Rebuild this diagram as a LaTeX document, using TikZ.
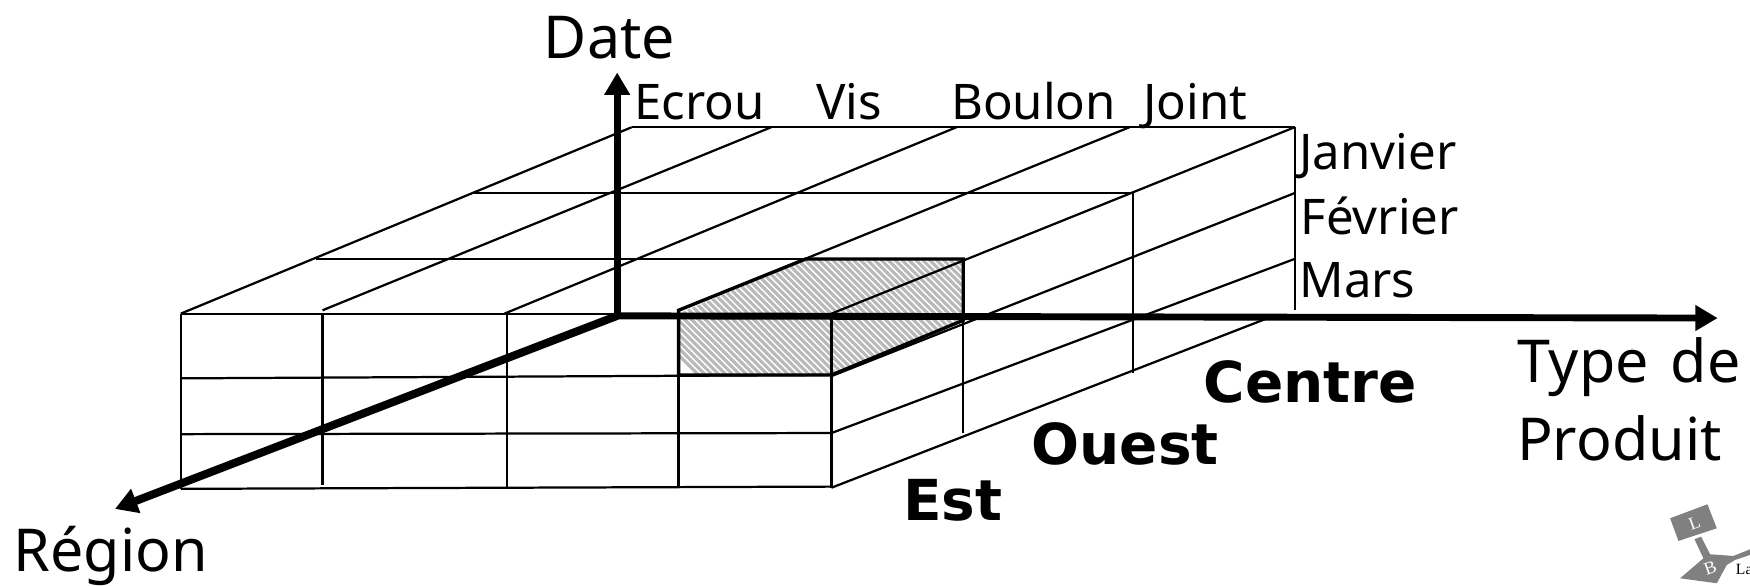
\documentclass[tikz,border=0pt]{standalone}
\usepackage{fontspec}
\setmainfont{Noto Sans}
\newfontfamily\boldfam[BoldFont={* Bold}]{DejaVu Sans}
\newfontfamily\logofam{Liberation Serif}
\usetikzlibrary{arrows.meta}
\tikzset{
  thinl/.style={line width=1pt,black},
  axisl/.style={line width=3.1pt,black,-{Triangle[length=10pt,width=11pt]}},
  hl/.style={line width=1.5pt,black,line join=miter},
  lab/.style={font=\fontsize{22}{22}\selectfont,inner sep=0pt,anchor=base west},
  biglab/.style={font=\fontsize{26.5}{26.5}\selectfont,inner sep=0pt,anchor=base west},
  boldlab/.style={font=\boldfam\fontsize{25.3}{25.3}\selectfont\bfseries,inner sep=0pt,anchor=base west}
}
\definecolor{logogray}{gray}{0.5}
\begin{document}
\begin{tikzpicture}[x=0.5pt,y=-0.5pt]
\useasboundingbox (0,0) rectangle (1568,524.2);
% shaded cell
\begin{scope}
\clip (608,281) -- (722,232) -- (863,232) -- (863,287) -- (745,336) -- (608,336) -- cycle;
\fill[white] (600,225) rectangle (870,340);
\foreach \k in {0,...,70}{
  \draw[gray!55,line width=1.4pt] (500+\k*6.2,210) -- (500+\k*6.2+160,370);
}
\end{scope}
% top grid
\draw[thinl] (566,114) -- (1160,114);
\draw[thinl] (425,173) -- (1016,173);
\draw[thinl] (283,232) -- (863,232);
\draw[thinl] (162,281) -- (745,281);
\draw[thinl] (566,114) -- (162,281);
\draw[thinl] (691,114) -- (289,278);
\draw[thinl] (857,114) -- (452,281);
\draw[thinl] (1012,114) -- (608,278);
\draw[thinl] (1160,114) -- (745,281);
% front grid
\draw[thinl] (162,281) -- (162,438);
\draw[thinl] (289,281) -- (289,435);
\draw[thinl] (454,281) -- (454,437);
\draw[thinl] (608,281) -- (608,437);
\draw[thinl] (745,281) -- (745,437);
\draw[thinl] (162,339) -- (745,336);
\draw[thinl] (162,389) -- (745,388);
\draw[thinl] (162,438) -- (745,436);
% side grid
\draw[thinl] (863,232) -- (863,388);
\draw[thinl] (1015,173) -- (1015,334);
\draw[thinl] (1160,114) -- (1160,278);
\draw[thinl] (745,337) -- (1160,173);
\draw[thinl] (745,388) -- (1160,232);
\draw[thinl] (745,437) -- (1136,285);
% shaded outline
\draw[hl] (608,278) -- (722,232) -- (863,232) -- (863,287) -- (745,336) -- (608,336) -- cycle;
\draw[hl] (745,281) -- (745,336);
% axes
\coordinate (origin) at (553,283);
\coordinate (dateend) at (553,65);
\coordinate (prodend) at (1539,285);
\coordinate (regend) at (103,456);
\draw[axisl] (origin) -- (dateend);
\draw[axisl] (origin) -- (prodend);
\draw[axisl,line width=3.6pt] (origin) -- (regend);
% labels
\node[biglab] (date) at (487,52) {Date};
\node[lab] (ecrou) at (568,107) {Ecrou};
\node[lab] (vis) at (731,107) {Vis};
\node[lab] (boulon) at (852,107) {Boulon};
\node[lab] (joint) at (1024,107) {Joint};
\node[lab] (janvier) at (1164,152) {Janvier};
\node[lab] (fevrier) at (1165,210) {Février};
\node[lab] (mars) at (1164,267) {Mars};
\node[biglab] (type) at (1359,343) {Type\hspace{3pt} de};
\node[biglab] (produit) at (1359,413) {Produit};
\node[biglab] (region) at (12,512) {Région};
\node[boldlab] (centre) at (1078,361) {Centre};
\node[boldlab] (ouest) at (924,416) {Ouest};
\node[boldlab] (est) at (809,466) {Est};
% logo
\begin{scope}[shift={(1433.7,439)},x=0.1493pt,y=-0.1493pt]
\fill[logogray] (210,85) -- (322,43) -- (350,115) -- (235,153) -- cycle;
\fill[logogray] (283,148) -- (303,140) -- (330,193) -- (400,198) -- (450,178) -- (450,195) -- (405,210) -- (380,225) -- (350,280) -- (240,265) -- (310,205) -- cycle;
\node[white,font=\logofam\fontsize{8}{8}\selectfont,rotate=20,inner sep=0pt] (logol) at (283,100) {L};
\node[white,font=\logofam\fontsize{8}{8}\selectfont,rotate=20,inner sep=0pt] (logob) at (330,235) {B};
\end{scope}
\begin{scope}
\clip (1500,440) rectangle (1568,524.2);
\node[font=\logofam\fontsize{7}{7}\selectfont,inner sep=0pt,anchor=base west] (logot) at (1555,515) {La};
\end{scope}
\end{tikzpicture}
\end{document}
